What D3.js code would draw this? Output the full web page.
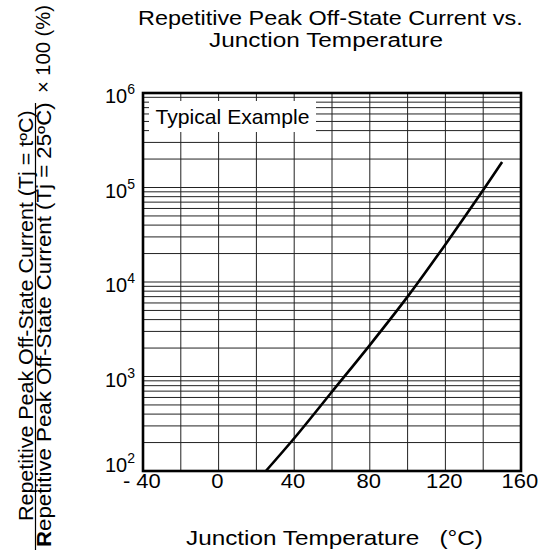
<!DOCTYPE html>
<html>
<head>
<meta charset="utf-8">
<script src="https://cdn.jsdelivr.net/npm/d3@7"></script>
<style>
  body { margin: 0; background: #fff; }
  text { font-family: "Liberation Sans", Arial, sans-serif; fill: #000; }
</style>
</head>
<body>
<div id="plot"></div>
<script>
// chart data
const temps = [25, 40, 60, 80, 100, 120, 140, 150];
const ratio = [100, 222, 690, 2150, 7000, 25000, 94000, 186000];

const xTicks = [-40, 0, 40, 80, 120, 160];
const xTickLabels = ["- 40", "0", "40", "80", "120", "160"];
const yTicks = [1e2, 1e3, 1e4, 1e5, 1e6];
const yTickExp = ["2", "3", "4", "5", "6"];

const titleLines = ["Repetitive Peak Off-State Current vs.", "Junction Temperature"];
const xTitle = "Junction Temperature   (°C)";
const yNumer = "Repetitive Peak Off-State Current (Tj = tºC)";
const yDenom = "epetitive Peak Off-State Current (Tj = 25ºC)";
const yFactor = "× 100 (%)";
const legendText = "Typical Example";

const WIDTH = 547, HEIGHT = 550;
const L = 143, R = 521, T = 93, B = 471;

const svg = d3.select("#plot")
  .append("svg")
    .attr("width", WIDTH)
    .attr("height", HEIGHT);

const x = d3.scaleLinear().domain([-40, 160]).range([L, R]);
const y = d3.scaleLog().domain([1e2, 1e6]).range([B, T]);

// puts a text at (px,py) and stretches it along its length to fit len
function fitText(str, px, py, size, len, rot) {
  const t = svg.append("text")
    .attr("font-size", size)
    .style("white-space", "pre")
    .text(str);
  const natural = t.node().getComputedTextLength();
  const s = len / natural;
  t.attr("transform", "translate(" + px + "," + py + ")" +
    (rot ? " rotate(" + rot + ")" : "") + " scale(" + s + ",1)");
  return t;
}

// grid: vertical every 20 degrees
const grid = svg.append("g").attr("stroke", "#222").attr("stroke-width", 1);
d3.range(-20, 160, 20).forEach(t => {
  grid.append("line")
    .attr("x1", x(t)).attr("x2", x(t))
    .attr("y1", T).attr("y2", B);
});

// grid: horizontal log lines 1..9 per decade
[2, 3, 4, 5].forEach(e => {
  d3.range(1, 10).forEach(k => {
    const v = k * Math.pow(10, e);
    if (v === 1e2) return;
    grid.append("line")
      .attr("x1", L).attr("x2", R)
      .attr("y1", y(v)).attr("y2", y(v));
  });
});

// legend box covers the grid
svg.append("rect")
  .attr("x", 149).attr("y", 101)
  .attr("width", 167).attr("height", 31)
  .attr("fill", "#fff");
fitText(legendText, 155.5, 123.5, 20, 154);

// curve
const line = d3.line()
  .x((d, i) => x(temps[i]))
  .y(d => y(d))
  .curve(d3.curveCatmullRom.alpha(0.5));

svg.append("path")
  .datum(ratio)
  .attr("d", line)
  .attr("fill", "none")
  .attr("stroke", "#000")
  .attr("stroke-width", 2.6);

// frame
svg.append("rect")
  .attr("x", L).attr("y", T)
  .attr("width", R - L).attr("height", B - T)
  .attr("fill", "none")
  .attr("stroke", "#000")
  .attr("stroke-width", 2.6);

// x axis labels
const xAxis = d3.axisBottom(x)
  .tickValues(xTicks)
  .tickSize(0)
  .tickFormat((d, i) => xTickLabels[i]);

const gx = svg.append("g")
  .attr("transform", "translate(0," + B + ")")
  .call(xAxis);
gx.select(".domain").remove();
gx.selectAll(".tick text")
  .attr("x", 0)
  .attr("y", 17)
  .attr("dy", null)
  .attr("dx", -1.5)
  .attr("font-size", 20)
  .attr("font-family", "Liberation Sans, Arial, sans-serif")
  .attr("fill", "#000")
  .style("white-space", "pre")
  .attr("transform", "scale(1.1,1)");

// y axis labels: 10 with superscript exponent
const yAxis = d3.axisLeft(y)
  .tickValues(yTicks)
  .tickSize(0)
  .tickFormat(() => "");

const gy = svg.append("g")
  .attr("transform", "translate(" + L + ",0)")
  .call(yAxis);
gy.select(".domain").remove();
gy.selectAll(".tick text").each(function (d, i) {
  const t = d3.select(this)
    .attr("x", -8)
    .attr("y", d === 1e2 ? 0.5 : 9.5)
    .attr("dy", null)
    .attr("text-anchor", "end")
    .attr("font-size", 20)
    .attr("font-family", "Liberation Sans, Arial, sans-serif")
    .attr("fill", "#000");
  t.text("10");
  t.append("tspan")
    .attr("dy", -9)
    .attr("font-size", 14)
    .text(yTickExp[i]);
});

// title
fitText(titleLines[0], 138, 25, 21, 385);
fitText(titleLines[1], 209, 47, 21, 234);

// x axis title
fitText(xTitle, 186, 545, 21, 297);

// y axis title as a fraction
fitText(yNumer, 32.5, 521, 19.5, 411, -90);

const den = svg.append("text")
  .attr("font-size", 19.5);
den.append("tspan").attr("font-weight", "bold").text("R");
den.append("tspan").text(yDenom);
const denLen = den.node().getComputedTextLength();
den.attr("transform", "translate(50.5,547) rotate(-90) scale(" + (445 / denLen) + ",1)");

svg.append("line")
  .attr("x1", 35.5).attr("x2", 35.5)
  .attr("y1", 103).attr("y2", 550)
  .attr("stroke", "#000")
  .attr("stroke-width", 1.2);

fitText(yFactor, 49.5, 93, 19.5, 88, -90);
</script>
</body>
</html>
